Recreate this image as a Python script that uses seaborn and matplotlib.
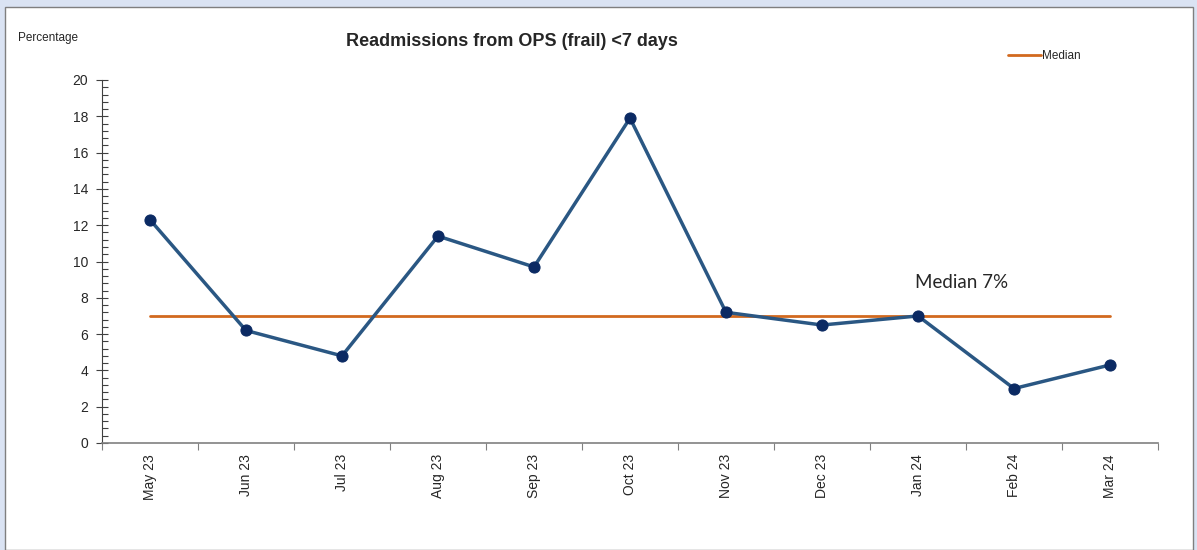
import matplotlib
matplotlib.use("Agg")
import matplotlib.pyplot as plt
import seaborn as sns
import pandas as pd
from matplotlib.patches import Rectangle
from matplotlib.ticker import MultipleLocator

sns.set_style("white")
plt.rcParams['font.family'] = ['Liberation Sans', 'DejaVu Sans']

# data
months = ["May 23", "Jun 23", "Jul 23", "Aug 23", "Sep 23", "Oct 23",
          "Nov 23", "Dec 23", "Jan 24", "Feb 24", "Mar 24"]
readmit_pct = [12.3, 6.2, 4.8, 11.4, 9.7, 17.9, 7.2, 6.5, 7.0, 3.0, 4.3]
median_value = 7

df = pd.DataFrame({"month": months, "pct": readmit_pct,
                   "median": [median_value] * len(months)})

fig = plt.figure(figsize=(11.97, 5.5), dpi=100)
fig.patch.set_facecolor("#DAE3F3")
# white chart panel
fig.patches.append(Rectangle((5/1197, 0), 1188/1197, 543/550, transform=fig.transFigure,
                             facecolor="white", edgecolor="#7F7F7F", linewidth=1, zorder=-10))

ax = fig.add_axes([102/1197, (550-443)/550, (1158-102)/1197, (443-80)/550])
ax.set_facecolor("none")
ax.set_zorder(5)

sns.lineplot(data=df, x="month", y="median", ax=ax, color="#D2691E", linewidth=2, zorder=2)
sns.lineplot(data=df, x="month", y="pct", ax=ax, color="#2A5783", linewidth=2.5,
             marker="o", markersize=8, markerfacecolor="#0B2A63",
             markeredgecolor="#0B2A63", zorder=3)

ax.set_xlim(-0.5, len(months) - 0.5)
ax.set_ylim(0, 20)
ax.set_xlabel("")
ax.set_ylabel("")

# y axis: majors every 2, minors every 0.4
ax.yaxis.set_major_locator(MultipleLocator(2))
ax.yaxis.set_minor_locator(MultipleLocator(0.4))
ax.tick_params(axis="y", which="major", direction="inout", length=8, width=0.8,
               color="#404040", labelsize=10, pad=6, left=True)
ax.tick_params(axis="y", which="minor", direction="in", length=4, width=0.8,
               color="#404040", left=True)

# x axis: tick marks on category boundaries, labels on centres
ax.set_xticks(range(len(months)))
ax.set_xticklabels(months, rotation=90, fontsize=10)
ax.tick_params(axis="x", which="major", length=0, pad=8)
ax.set_xticks([i - 0.5 for i in range(len(months) + 1)], minor=True)
ax.tick_params(axis="x", which="minor", direction="out", length=5, width=0.8,
               color="#808080", bottom=True)

for side in ["top", "right"]:
    ax.spines[side].set_visible(False)
ax.spines["left"].set_color("#404040")
ax.spines["bottom"].set_color("#808080")
ax.spines["left"].set_linewidth(0.8)
ax.spines["bottom"].set_linewidth(1.2)

fig.text(512/1197, 1 - 41/550, "Readmissions from OPS (frail) <7 days",
         ha="center", va="center", fontsize=13, fontweight="bold")
fig.text(18/1197, 1 - 38/550, "Percentage", ha="left", va="center", fontsize=8.5)

ax.text(8.45, 8.85, "Median 7%", ha="center", va="center", fontsize=13.5,
        family=["Lato", "DejaVu Sans"], color="#262626")

# legend
handles = [plt.Line2D([0], [0], color="#D2691E", linewidth=2)]
fig.legend(handles, ["Median"], loc="center left", bbox_to_anchor=(1008/1197, 1 - 56/550),
           frameon=False, fontsize=8.5, handlelength=2.8, handletextpad=0.1,
           borderaxespad=0, borderpad=0)

fig.savefig("out.png", dpi=100, facecolor=fig.get_facecolor())
